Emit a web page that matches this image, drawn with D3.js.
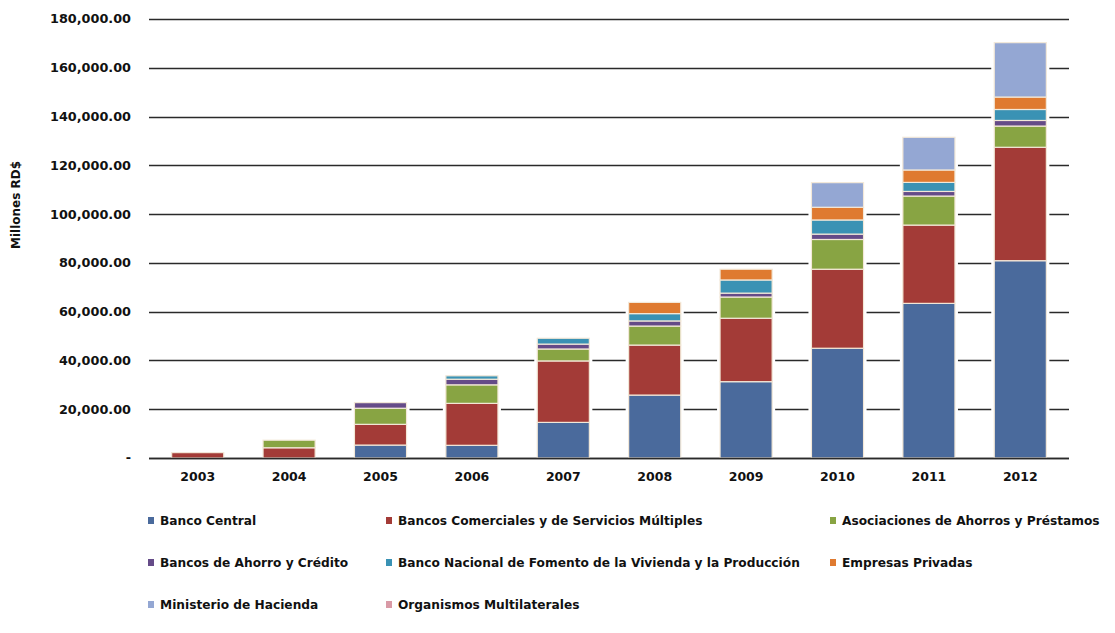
<!DOCTYPE html>
<html>
<head>
<meta charset="utf-8">
<script src="https://cdn.jsdelivr.net/npm/d3@7"></script>
<style>
  html, body { margin: 0; padding: 0; background: #fff; }
  svg { display: block; }
  text { font-family: "DejaVu Sans", Verdana, sans-serif; font-weight: bold; fill: #111; }
</style>
</head>
<body>
<svg id="chart" width="1115" height="633"></svg>
<script>
// ---- data ----
const years = ["2003","2004","2005","2006","2007","2008","2009","2010","2011","2012"];
const seriesNames = [
  "Banco Central",
  "Bancos Comerciales y de Servicios Múltiples",
  "Asociaciones de Ahorros y Préstamos",
  "Bancos de Ahorro y Crédito",
  "Banco Nacional de Fomento de la Vivienda y la Producción",
  "Empresas Privadas",
  "Ministerio de Hacienda",
  "Organismos Multilaterales"
];
const bancoCentral   = [0, 0, 5300, 5200, 14600, 25800, 31300, 45000, 63400, 80900];
const comerciales    = [2200, 4200, 8500, 17200, 25200, 20500, 26000, 32400, 32100, 46500];
const asociaciones   = [0, 3100, 6600, 7600, 4900, 7800, 8700, 12200, 11900, 8700];
const ahorroCredito  = [0, 0, 2300, 2300, 2000, 2100, 1600, 2200, 1900, 2300];
const bnv            = [0, 0, 0, 1400, 2400, 3000, 5400, 5800, 3700, 4500];
const empresas       = [0, 0, 0, 0, 0, 4600, 4400, 5200, 5100, 5100];
const ministerio     = [0, 0, 0, 0, 0, 0, 0, 10100, 13400, 22300];
const organismos     = [0, 0, 0, 0, 0, 0, 0, 0, 0, 0];
const yTicks = [0, 20000, 40000, 60000, 80000, 100000, 120000, 140000, 160000, 180000];
const colors = ["#4a6a9c", "#a33b37", "#88a443", "#654b88", "#3a92b4", "#df7a30", "#94a7d3", "#d99aa6"];

const seriesValues = [bancoCentral, comerciales, asociaciones, ahorroCredito, bnv, empresas, ministerio, organismos];
const keys = seriesNames;
const table = years.map((y, i) => {
  const row = { year: y };
  keys.forEach((k, j) => row[k] = seriesValues[j][i]);
  return row;
});

const svg = d3.select("#chart");
const plotL = 149, plotR = 1069, plotT = 19, plotB = 458;

const x = d3.scaleBand().domain(years).range([152, 1066]).paddingInner(0.43).paddingOuter(0.215);
const y = d3.scaleLinear().domain([0, 180000]).range([plotB, plotT]);

// gridlines
svg.append("g").selectAll("line").data(yTicks).join("line")
  .attr("x1", plotL).attr("x2", plotR)
  .attr("y1", d => Math.round(y(d)) + 0.5).attr("y2", d => Math.round(y(d)) + 0.5)
  .attr("stroke", "#2a2a2a").attr("stroke-width", 1.3);

// y labels
const fmt = d => d === 0 ? "-" : d3.format(",.2f")(d);
svg.append("g").selectAll("text").data(yTicks).join("text")
  .attr("x", 131).attr("y", d => y(d)).attr("dy", "0.35em")
  .attr("text-anchor", "end").attr("font-size", 12.8)
  .text(fmt);

// y title
svg.append("text")
  .attr("transform", "translate(20,205) rotate(-90)")
  .attr("text-anchor", "middle").attr("font-size", 12)
  .text("Millones RD$");

const stack = d3.stack().keys(keys)(table);

// white halo behind each bar
const totals = table.map(r => d3.sum(keys, k => r[k]));
svg.append("g").selectAll("rect").data(years).join("rect")
  .attr("x", d => x(d) - 3).attr("width", x.bandwidth() + 6)
  .attr("y", (d, i) => y(totals[i]) - 3)
  .attr("height", (d, i) => plotB - y(totals[i]) + 2)
  .attr("fill", "#fff");

// bars
svg.append("g").selectAll("g").data(stack).join("g")
  .attr("fill", (d, i) => colors[i])
  .selectAll("rect").data(d => d.filter(s => s[1] - s[0] > 0)).join("rect")
  .attr("x", d => x(d.data.year))
  .attr("width", x.bandwidth())
  .attr("y", d => y(d[1]))
  .attr("height", d => y(d[0]) - y(d[1]))
  .attr("stroke", "#f3e8d8").attr("stroke-width", 1.2);

// baseline
svg.append("line")
  .attr("x1", plotL).attr("x2", plotR)
  .attr("y1", plotB + 0.5).attr("y2", plotB + 0.5)
  .attr("stroke", "#2a2a2a").attr("stroke-width", 1.3);

// x labels
svg.append("g").selectAll("text").data(years).join("text")
  .attr("x", d => x(d) + x.bandwidth() / 2).attr("y", 481)
  .attr("text-anchor", "middle").attr("font-size", 12.5)
  .text(d => d);

// legend
const legCols = [148, 386, 830];
const legRows = [521, 563, 605];
const leg = svg.append("g").selectAll("g").data(seriesNames).join("g")
  .attr("transform", (d, i) => `translate(${legCols[i % 3]},${legRows[Math.floor(i / 3)]})`);
leg.append("rect").attr("x", 0).attr("y", -4).attr("width", 6).attr("height", 7)
  .attr("fill", (d, i) => colors[i]);
leg.append("text").attr("x", 12).attr("dy", "0.35em").attr("font-size", 12.2)
  .text(d => d);
</script>
</body>
</html>
